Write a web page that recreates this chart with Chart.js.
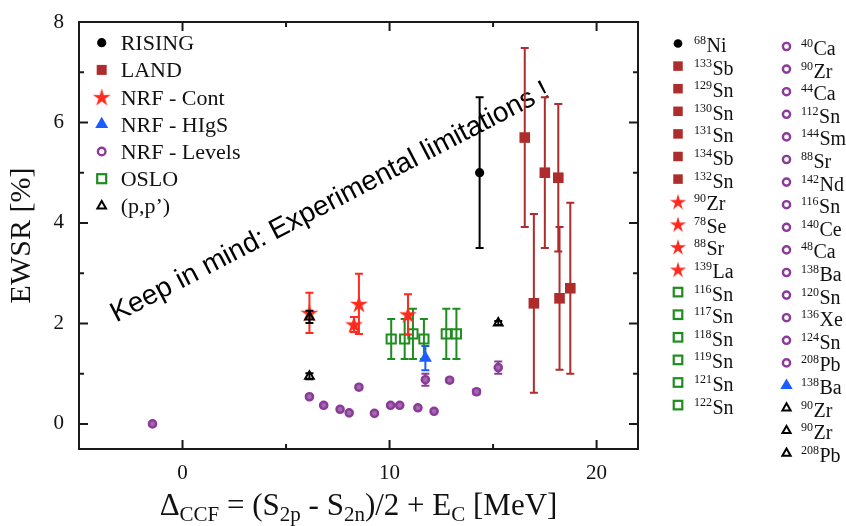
<!DOCTYPE html>
<html><head><meta charset="utf-8">
<script src="https://cdn.jsdelivr.net/npm/chart.js@4.4.0/dist/chart.umd.min.js"></script>
<style>html,body{margin:0;padding:0;background:#fff;}</style>
</head><body>
<canvas id="c" width="846" height="526"></canvas>
<script>
// ---------- data ----------
const risingX = [14.35];
const risingY = [5.0];
const risingErr = [1.5];

const landX = [16.53, 17.50, 18.15, 16.97, 18.21, 18.73];
const landY = [5.70, 5.00, 4.90, 2.40, 2.50, 2.70];
const landErr = [1.78, 1.50, 1.47, 1.78, 1.42, 1.70];

const contX = [6.13, 8.52, 8.28, 10.89];
const contY = [2.21, 2.39, 1.98, 2.18];
const contErr = [0.40, 0.60, 0.15, 0.40];

const higsX = [11.73];
const higsY = [1.31];
const higsErr = [0.24];

const levelsX = [-1.45, 6.13, 6.82, 7.61, 8.05, 8.52, 9.27, 10.05, 10.49, 11.37, 11.73, 12.15, 12.90, 14.20, 15.25];
const levelsY = [0.00, 0.54, 0.37, 0.29, 0.22, 0.73, 0.21, 0.37, 0.37, 0.32, 0.88, 0.25, 0.87, 0.64, 1.12];
const levelsErr = [0.03, 0.03, 0.03, 0.03, 0.03, 0.04, 0.03, 0.03, 0.03, 0.03, 0.12, 0.03, 0.04, 0.05, 0.12];

const osloX = [10.08, 10.73, 11.13, 11.66, 12.74, 13.23];
const osloY = [1.69, 1.69, 1.79, 1.69, 1.79, 1.79];
const osloErr = [0.40, 0.40, 0.50, 0.40, 0.50, 0.50];

const ppX = [6.13, 6.13, 15.25];
const ppY = [2.13, 0.95, 2.01];
const ppErr = [0.12, 0.06, 0.04];

const seriesNames = ['RISING', 'LAND', 'NRF - Cont', 'NRF - HIgS', 'NRF - Levels', 'OSLO', '(p,p\u2019)'];

const isoRising = [['68','Ni']];
const isoLand = [['133','Sb'],['129','Sn'],['130','Sn'],['131','Sn'],['134','Sb'],['132','Sn']];
const isoCont = [['90','Zr'],['78','Se'],['88','Sr'],['139','La']];
const isoOslo = [['116','Sn'],['117','Sn'],['118','Sn'],['119','Sn'],['121','Sn'],['122','Sn']];
const isoLevels = [['40','Ca'],['90','Zr'],['44','Ca'],['112','Sn'],['144','Sm'],['88','Sr'],['142','Nd'],['116','Sn'],['140','Ce'],['48','Ca'],['138','Ba'],['120','Sn'],['136','Xe'],['124','Sn'],['208','Pb']];
const isoHigs = [['138','Ba']];
const isoPP = [['90','Zr'],['90','Zr'],['208','Pb']];

const xTickLabels = [0, 10, 20];
const yTickLabels = [0, 2, 4, 6, 8];
const yTitle = 'EWSR [%]';
const xTitleParts = [['\u0394','n'],['CCF','s'],[' = (S','n'],['2p','s'],[' - S','n'],['2n','s'],[')/2 + E','n'],['C','s'],[' [MeV]','n']];
const noteText = 'Keep in mind: Experimental limitations !';
const noteAt = {x: 7.3, y: 4.27};

// ---------- styles ----------
const SERIF = "'Liberation Serif', 'Times New Roman', serif";
const SANS = "'Liberation Sans', Arial, sans-serif";
const C_BLACK = '#000000', C_LAND = '#ae2c2c', C_RED = '#ff2a1e', C_BLUE = '#1a5cff', C_PURPLE = '#8b3a99', C_GREEN = '#1f8c1f';

function starCanvas(size, color) {
  const c = document.createElement('canvas'); c.width = c.height = size;
  const g = c.getContext('2d'); g.fillStyle = color; g.beginPath();
  const R = size / 2 - 0.5, r = R * 0.36, cx = size / 2, cy = size / 2 + 0.8;
  for (let k = 0; k < 10; k++) {
    const a = -Math.PI / 2 + k * Math.PI / 5, rr = k % 2 ? r : R;
    g.lineTo(cx + rr * Math.cos(a), cy + rr * Math.sin(a));
  }
  g.closePath(); g.fill(); return c;
}
const starImg = starCanvas(20, C_RED);
const starImgSmall = starCanvas(18, C_RED);

const pts = (xs, ys) => xs.map((x, i) => ({x, y: ys[i]}));

const datasets = [
  {label: seriesNames[0], data: pts(risingX, risingY), errs: risingErr, errColor: C_BLACK, pointStyle: 'circle', pointRadius: 4.6, backgroundColor: C_BLACK, borderColor: C_BLACK, borderWidth: 0, order: 3, mk: 'dot', col: C_BLACK},
  {label: seriesNames[1], data: pts(landX, landY), errs: landErr, errColor: C_LAND, pointStyle: 'rect', pointRadius: 7.5, backgroundColor: C_LAND, borderColor: C_LAND, borderWidth: 0, order: 6, mk: 'sq', col: C_LAND},
  {label: seriesNames[2], data: pts(contX, contY), errs: contErr, errColor: C_RED, pointStyle: starImg, pointRadius: 10, backgroundColor: C_RED, borderColor: C_RED, order: 2, mk: 'star', col: C_RED},
  {label: seriesNames[3], data: pts(higsX, higsY), errs: higsErr, errColor: C_BLUE, pointStyle: 'triangle', pointRadius: 7.5, backgroundColor: C_BLUE, borderColor: C_BLUE, borderWidth: 0, order: 1, mk: 'tri', col: C_BLUE},
  {label: seriesNames[4], data: pts(levelsX, levelsY), errs: levelsErr, errColor: C_PURPLE, pointStyle: 'circle', pointRadius: 3.6, backgroundColor: '#a06aac', borderColor: C_PURPLE, borderWidth: 2.4, order: 5, mk: 'ring', col: C_PURPLE},
  {label: seriesNames[5], data: pts(osloX, osloY), errs: osloErr, errColor: C_GREEN, pointStyle: 'rect', pointRadius: 6.5, backgroundColor: 'rgba(255,255,255,0)', borderColor: C_GREEN, borderWidth: 2, order: 4, mk: 'osq', col: C_GREEN},
  {label: seriesNames[6], data: pts(ppX, ppY), errs: ppErr, errColor: C_BLACK, pointStyle: 'triangle', pointRadius: 5, backgroundColor: 'rgba(255,255,255,0)', borderColor: C_BLACK, borderWidth: 2, order: 0, mk: 'otri', col: C_BLACK}
];

function drawMarker(ctx, kind, x, y, s, color) {
  ctx.save();
  ctx.fillStyle = color; ctx.strokeStyle = color;
  if (kind === 'dot') { ctx.beginPath(); ctx.arc(x, y, s, 0, Math.PI * 2); ctx.fill(); }
  else if (kind === 'ring') { ctx.lineWidth = 2.4; ctx.beginPath(); ctx.arc(x, y, s, 0, Math.PI * 2); ctx.stroke(); }
  else if (kind === 'sq') { ctx.fillRect(x - s, y - s, 2 * s, 2 * s); }
  else if (kind === 'osq') { ctx.lineWidth = 2.2; ctx.strokeRect(x - s, y - s, 2 * s, 2 * s); }
  else if (kind === 'star') { const im = s > 9 ? starImg : starImgSmall; ctx.drawImage(im, x - im.width / 2, y - im.height / 2); }
  else if (kind === 'tri' || kind === 'otri') {
    ctx.beginPath(); ctx.moveTo(x, y - s); ctx.lineTo(x + s * 0.866, y + s * 0.5); ctx.lineTo(x - s * 0.866, y + s * 0.5); ctx.closePath();
    if (kind === 'tri') ctx.fill(); else { ctx.lineWidth = 2; ctx.stroke(); }
  }
  ctx.restore();
}

const legendSize = {dot: 4.6, sq: 5, star: 10, tri: 7.5, ring: 3.8, osq: 4.5, otri: 5};

const errorBars = {
  id: 'errorBars',
  beforeDatasetDraw(chart, args) {
    const ds = chart.data.datasets[args.index];
    if (!ds.errs) return;
    const ctx = chart.ctx, xs = chart.scales.x, ys = chart.scales.y;
    ctx.save();
    ctx.strokeStyle = ds.errColor; ctx.lineWidth = 2;
    ds.data.forEach((p, i) => {
      const e = ds.errs[i];
      const px = xs.getPixelForValue(p.x), y1 = ys.getPixelForValue(p.y + e), y2 = ys.getPixelForValue(p.y - e);
      ctx.beginPath();
      ctx.moveTo(px, y1); ctx.lineTo(px, y2);
      ctx.moveTo(px - 4, y1); ctx.lineTo(px + 4, y1);
      ctx.moveTo(px - 4, y2); ctx.lineTo(px + 4, y2);
      ctx.stroke();
    });
    ctx.restore();
  }
};

const frameAndText = {
  id: 'frameAndText',
  beforeDatasetsDraw(chart) {
    const ctx = chart.ctx, xs = chart.scales.x, ys = chart.scales.y;
    ctx.save();
    ctx.translate(xs.getPixelForValue(noteAt.x), ys.getPixelForValue(noteAt.y));
    ctx.rotate(-27.5 * Math.PI / 180);
    ctx.font = '28px ' + SANS; ctx.fillStyle = '#000'; ctx.textAlign = 'center'; ctx.textBaseline = 'alphabetic';
    ctx.fillText(noteText, 0, 0);
    ctx.restore();
  },
  afterDraw(chart) {
    const ctx = chart.ctx, a = chart.chartArea, xs = chart.scales.x, ys = chart.scales.y;
    ctx.save();
    ctx.strokeStyle = '#1a1a1a'; ctx.lineWidth = 2;
    ctx.strokeRect(a.left, a.top, a.right - a.left, a.bottom - a.top);
    ctx.beginPath();
    xs.ticks.forEach(t => {
      const v = t.value; if (v <= xs.min || v >= xs.max) return;
      const px = xs.getPixelForValue(v), len = xTickLabels.includes(v) ? 9 : 5;
      ctx.moveTo(px, a.bottom); ctx.lineTo(px, a.bottom - len);
      ctx.moveTo(px, a.top); ctx.lineTo(px, a.top + len);
    });
    ys.ticks.forEach(t => {
      const v = t.value; if (v <= ys.min || v >= ys.max) return;
      const py = ys.getPixelForValue(v), len = yTickLabels.includes(v) ? 9 : 5;
      ctx.moveTo(a.left, py); ctx.lineTo(a.left + len, py);
      ctx.moveTo(a.right, py); ctx.lineTo(a.right - len, py);
    });
    ctx.stroke();

    // left legend
    ctx.fillStyle = '#111'; ctx.textBaseline = 'alphabetic'; ctx.textAlign = 'left';
    ctx.font = '22px ' + SERIF;
    chart.data.datasets.forEach((ds, i) => {
      const y = a.top + 20.7 + i * 27.2;
      drawMarker(ctx, ds.mk, a.left + 22.7, y, legendSize[ds.mk], ds.col);
      ctx.fillStyle = '#111';
      ctx.fillText(ds.label, a.left + 41.7, y + 7.5);
    });

    // right legend
    const byLabel = {}; chart.data.datasets.forEach(ds => byLabel[ds.label] = ds);
    const col1 = [].concat(isoRising.map(e => [e, byLabel[seriesNames[0]]]), isoLand.map(e => [e, byLabel[seriesNames[1]]]), isoCont.map(e => [e, byLabel[seriesNames[2]]]), isoOslo.map(e => [e, byLabel[seriesNames[5]]]));
    const col2 = [].concat(isoLevels.map(e => [e, byLabel[seriesNames[4]]]), isoHigs.map(e => [e, byLabel[seriesNames[3]]]), isoPP.map(e => [e, byLabel[seriesNames[6]]]));
    const drawCol = (list, mx, tx, y0) => {
      list.forEach(([iso, ds], i) => {
        const y = y0 + i * 22.6;
        const sz = ds.mk === 'star' ? 9 : legendSize[ds.mk] * 0.95;
        drawMarker(ctx, ds.mk, mx, y, sz, ds.col);
        ctx.fillStyle = '#111';
        ctx.font = '12px ' + SERIF;
        ctx.fillText(iso[0], tx, y + 0.5);
        const w = ctx.measureText(iso[0]).width;
        ctx.font = '20px ' + SERIF;
        ctx.fillText(iso[1], tx + w + 0.5, y + 8.5);
      });
    };
    drawCol(col1, 678, 694, 43.5);
    drawCol(col2, 786.5, 801, 46.5);

    // x title
    const big = '31px ' + SERIF, small = '21px ' + SERIF;
    let total = 0;
    xTitleParts.forEach(([t, k]) => { ctx.font = k === 's' ? small : big; total += ctx.measureText(t).width; });
    let x = (a.left + a.right) / 2 - total / 2;
    const base = 515;
    xTitleParts.forEach(([t, k]) => {
      ctx.font = k === 's' ? small : big;
      ctx.fillText(t, x, k === 's' ? base + 6 : base);
      x += ctx.measureText(t).width;
    });
    ctx.restore();
  }
};

new Chart(document.getElementById('c'), {
  type: 'scatter',
  data: {datasets},
  options: {
    responsive: false,
    animation: false,
    devicePixelRatio: 1,
    layout: {padding: {left: 0, top: 22, right: 208, bottom: 0}},
    plugins: {legend: {display: false}, tooltip: {enabled: false}},
    scales: {
      x: {
        type: 'linear', min: -5, max: 22,
        grid: {drawOnChartArea: false, drawTicks: false},
        border: {display: false},
        ticks: {stepSize: 5, includeBounds: false, autoSkip: false, maxRotation: 0, padding: 12, color: '#111', font: {family: SERIF, size: 21},
          callback: v => xTickLabels.includes(v) ? String(v) : ''},
        afterFit: s => { s.height = 77; s.paddingLeft = 0; s.paddingRight = 0; }
      },
      y: {
        type: 'linear', min: -0.5, max: 8,
        grid: {drawOnChartArea: false, drawTicks: false},
        border: {display: false},
        ticks: {stepSize: 1, includeBounds: false, autoSkip: false, padding: 15, color: '#111', font: {family: SERIF, size: 21},
          callback: v => yTickLabels.includes(v) ? String(v) : ''},
        title: {display: true, text: yTitle, color: '#111', font: {family: SERIF, size: 30}, padding: {top: 4, bottom: 0}},
        afterFit: s => { s.width = 79; s.paddingTop = 0; s.paddingBottom = 0; }
      }
    }
  },
  plugins: [errorBars, frameAndText]
});
</script>
</body></html>
